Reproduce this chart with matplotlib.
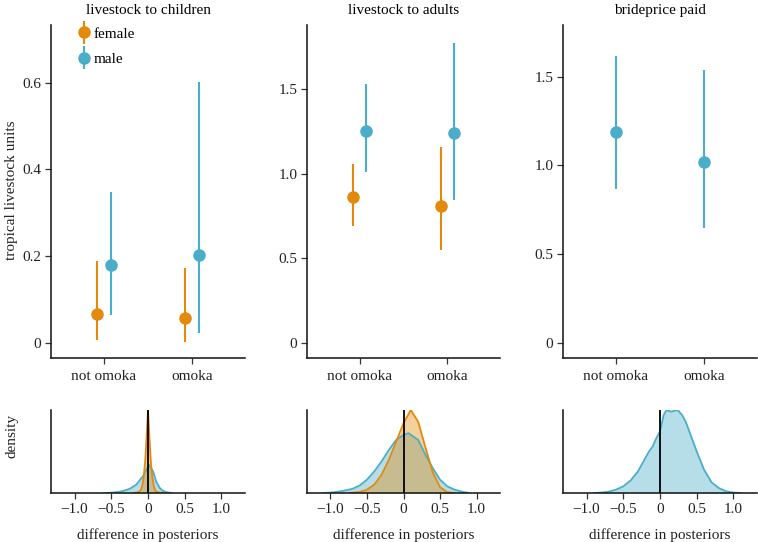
import matplotlib.pyplot as plt
from matplotlib.container import ErrorbarContainer
from matplotlib.legend_handler import HandlerErrorbar

plt.rcParams['font.family'] = ['Liberation Serif', 'DejaVu Serif']

categories = ['not omoka', 'omoka']
titles = ['livestock to children', 'livestock to adults', 'brideprice paid']

# posterior means and intervals, [not omoka, omoka]
kids_f_mid = [0.066, 0.057]
kids_f_lo = [0.007, 0.003]
kids_f_hi = [0.188, 0.172]
kids_m_mid = [0.180, 0.203]
kids_m_lo = [0.065, 0.022]
kids_m_hi = [0.348, 0.601]

adult_f_mid = [0.862, 0.810]
adult_f_lo = [0.692, 0.546]
adult_f_hi = [1.057, 1.160]
adult_m_mid = [1.250, 1.240]
adult_m_lo = [1.010, 0.846]
adult_m_hi = [1.532, 1.773]

bride_m_mid = [1.187, 1.018]
bride_m_lo = [0.865, 0.648]
bride_m_hi = [1.614, 1.539]

# densities of the difference in posteriors (relative height)
kids_dx_m = [-0.6, -0.52, -0.43, -0.34, -0.25, -0.16, -0.07, 0.014, 0.07, 0.11, 0.16, 0.2, 0.25, 0.32]
kids_dy_m = [0.0, 0.003, 0.01, 0.024, 0.05, 0.1, 0.2, 0.34, 0.26, 0.14, 0.06, 0.028, 0.01, 0.0]
kids_dx_f = [-0.2, -0.13, -0.1, -0.08, -0.06, -0.04, -0.02, 0.0, 0.02, 0.04, 0.06, 0.08, 0.1, 0.13, 0.2]
kids_dy_f = [0.0, 0.01, 0.03, 0.08, 0.18, 0.36, 0.66, 1.0, 0.66, 0.36, 0.18, 0.08, 0.03, 0.01, 0.0]

adult_dx_m = [-1.1, -1.0, -0.9, -0.8, -0.7, -0.6, -0.5, -0.4, -0.3, -0.2, -0.1, 0.0, 0.07, 0.2, 0.3, 0.4, 0.5, 0.6, 0.7, 0.8, 0.9]
adult_dy_m = [0.0, 0.005, 0.015, 0.03, 0.05, 0.09, 0.16, 0.26, 0.38, 0.52, 0.64, 0.70, 0.72, 0.64, 0.46, 0.30, 0.16, 0.08, 0.04, 0.015, 0.0]
adult_dx_f = [-0.75, -0.6, -0.5, -0.4, -0.3, -0.2, -0.1, 0.0, 0.1, 0.2, 0.3, 0.4, 0.5, 0.6, 0.7]
adult_dy_f = [0.0, 0.012, 0.04, 0.1, 0.22, 0.4, 0.62, 0.84, 1.0, 0.86, 0.55, 0.25, 0.07, 0.01, 0.0]

bride_dx_m = [-0.9, -0.8, -0.7, -0.6, -0.5, -0.4, -0.3, -0.25, -0.2, -0.15, -0.1, -0.05, 0.0, 0.05, 0.09, 0.15,
              0.24, 0.3, 0.35, 0.4, 0.5, 0.6, 0.7, 0.8, 0.9, 1.0, 1.1]
bride_dy_m = [0.0, 0.005, 0.016, 0.04, 0.08, 0.15, 0.26, 0.34, 0.42, 0.5, 0.56, 0.66, 0.74, 0.94, 1.0, 0.98,
              1.0, 0.94, 0.86, 0.74, 0.5, 0.28, 0.13, 0.06, 0.02, 0.005, 0.0]

orange = '#E38A0C'
blue = '#4AADC9'
fs = 11

W, H = 758, 542
fig = plt.figure(figsize=(W / 100, H / 100), dpi=100)


def px_axes(l, r, t, b):
    return fig.add_axes([l / W, 1 - b / H, (r - l) / W, (b - t) / H])


def style(ax):
    for s in ['top', 'right']:
        ax.spines[s].set_visible(False)
    for s in ['left', 'bottom']:
        ax.spines[s].set_linewidth(1.1)
        ax.spines[s].set_color('#111111')
    ax.tick_params(direction='out', length=4, width=0.9, color='#333333',
                   labelcolor='#222222', labelsize=fs, pad=3)


lefts = [51, 307, 563]
rights = [245, 500, 757]

top_data = [
    [(kids_f_mid, kids_f_lo, kids_f_hi, orange, 'female'), (kids_m_mid, kids_m_lo, kids_m_hi, blue, 'male')],
    [(adult_f_mid, adult_f_lo, adult_f_hi, orange, 'female'), (adult_m_mid, adult_m_lo, adult_m_hi, blue, 'male')],
    [(bride_m_mid, bride_m_lo, bride_m_hi, blue, 'male')],
]
ylims = [(-0.035, 0.733), (-0.09, 1.88), (-0.084, 1.79)]
yticks = [([0, 0.2, 0.4, 0.6], ['0', '0.2', '0.4', '0.6']),
          ([0, 0.5, 1.0, 1.5], ['0', '0.5', '1.0', '1.5']),
          ([0, 0.5, 1.0, 1.5], ['0', '0.5', '1.0', '1.5'])]

for i in range(3):
    ax = px_axes(lefts[i], rights[i], 25, 358)
    series = top_data[i]
    n = len(series)
    for j, (mid, lo, hi, col, lab) in enumerate(series):
        off = (j - (n - 1) / 2) * 0.15
        xs = [k + 1 + off for k in range(len(categories))]
        err = [[m - l for m, l in zip(mid, lo)], [h - m for m, h in zip(mid, hi)]]
        ax.errorbar(xs, mid, yerr=err, fmt='o', ms=8, color=col, ecolor=col,
                    elinewidth=1.5, capsize=0, label=lab, zorder=3)
    ax.set_xlim(0.4, 2.6)
    ax.set_ylim(*ylims[i])
    ax.set_xticks([1, 2])
    ax.set_xticklabels(categories)
    ax.set_yticks(yticks[i][0])
    ax.set_yticklabels(yticks[i][1])
    ax.set_title(titles[i], fontsize=fs, pad=8)
    style(ax)
    ax.tick_params(axis='x', pad=5)
    if i == 0:
        ax.legend(loc='upper left', bbox_to_anchor=(0.065, 1.035), frameon=False,
                  fontsize=fs, handlelength=0.9, handletextpad=0.15,
                  labelspacing=0.75,
                  handler_map={ErrorbarContainer: HandlerErrorbar(yerr_size=0.75)})

dens_data = [
    [(kids_dx_m, kids_dy_m, blue), (kids_dx_f, kids_dy_f, orange)],
    [(adult_dx_m, adult_dy_m, blue), (adult_dx_f, adult_dy_f, orange)],
    [(bride_dx_m, bride_dy_m, blue)],
]

for i in range(3):
    ax = px_axes(lefts[i], rights[i], 410, 493)
    for dx, dy, col in dens_data[i]:
        ax.fill_between(dx, dy, color=col, alpha=0.4, lw=0)
        ax.plot(dx, dy, color=col, lw=1.3)
    ax.axvline(0, color='black', lw=1.3)
    ax.set_xlim(-1.32, 1.32)
    ax.set_ylim(0, 1)
    ax.set_yticks([])
    ax.set_xticks([-1.0, -0.5, 0, 0.5, 1.0])
    ax.set_xticklabels(['\u22121.0', '\u22120.5', '0', '0.5', '1.0'])
    ax.set_xlabel('difference in posteriors', fontsize=fs, labelpad=9, color='#222222')
    style(ax)

fig.text(12 / W, 1 - 190 / H, 'tropical livestock units', rotation=90,
         ha='center', va='center', fontsize=fs, color='#222222')
fig.text(12 / W, 1 - 436 / H, 'density', rotation=90,
         ha='center', va='center', fontsize=fs, color='#222222')

fig.savefig('out.png', dpi=100)
